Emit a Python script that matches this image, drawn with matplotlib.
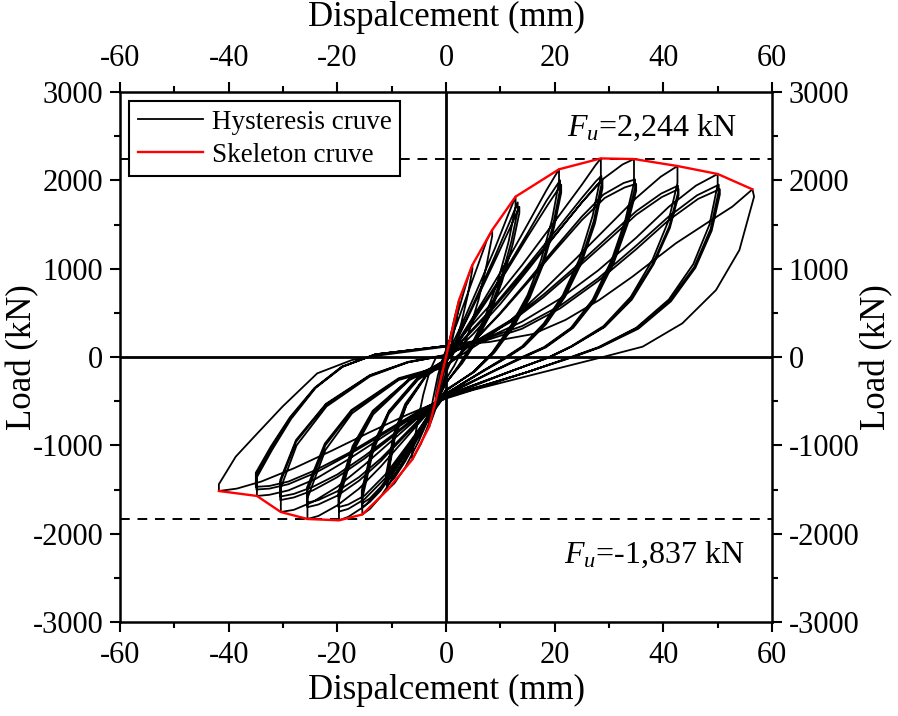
import matplotlib
matplotlib.use('Agg')
import matplotlib.pyplot as plt
from matplotlib.ticker import MultipleLocator

plt.rcParams['font.family'] = ['Liberation Serif', 'DejaVu Serif']
plt.rcParams['mathtext.fontset'] = 'custom'
plt.rcParams['mathtext.rm'] = 'Liberation Serif'
plt.rcParams['mathtext.it'] = 'Liberation Serif:italic'
plt.rcParams['axes.unicode_minus'] = False

# hysteresis cycles, (displacement mm, load kN)
c1 = [(0, 0), (0.8, 230), (1.6, 450), (2.4, 645), (2.4, 600), (1.8, 380), (1.0, 150), (0.5, 20), (0, -90),
      (-0.7, -250), (-1.4, -400), (-1.9, -490), (-1.9, -450), (-1.3, -260), (-0.6, -60), (0, 60)]
c2 = [(0, 60), (1.5, 350), (3.2, 720), (4.2, 930), (4.85, 1041), (4.85, 990), (4.0, 700), (2.8, 380), (1.6, 100),
      (0.8, -60), (0, -180), (-1.0, -390), (-2.1, -620), (-3.1, -790), (-3.1, -740), (-2.4, -480), (-1.5, -210),
      (-0.6, -20), (0, 80)]
c3 = [(0, 80), (2.0, 380), (4.0, 720), (6.0, 1060), (7.5, 1320), (8.5, 1438), (8.5, 1370), (7.5, 1050), (6.0, 650),
      (4.3, 300), (2.8, 60), (1.5, -100), (0, -250), (-1.5, -470), (-3.0, -730), (-4.6, -980), (-6.2, -1160),
      (-6.2, -1080), (-5.3, -760), (-4.2, -430), (-3.0, -160), (-1.8, 0), (0, 0)]
c4a = [(0, 0), (3, 380), (6, 800), (9, 1230), (11.5, 1620), (12.8, 1815), (12.8, 1700), (11.5, 1300), (9.5, 850),
       (7, 420), (4.5, 120), (2.5, -80), (0, -300), (-2.5, -600), (-5, -950), (-7.5, -1250), (-9.5, -1430),
       (-10.8, -1506), (-10.8, -1380), (-9.4, -910), (-7.3, -550), (-3.7, -220), (0, -60)]
c4b = [(0, -60), (3, 330), (6, 730), (9, 1140), (11.8, 1540), (13.2, 1750), (13.2, 1660), (12, 1300), (10, 860),
       (7.5, 440), (5, 140), (2.8, -70), (0, -290), (-2.5, -580), (-5, -900), (-7.5, -1180), (-9.5, -1370),
       (-10.8, -1450), (-10.8, -1340), (-9.4, -880), (-7.3, -540), (-3.7, -210), (0, -50)]
c4c = [(0, -50), (3, 320), (6, 700), (9, 1090), (12, 1490), (13.5, 1700), (13.5, 1630), (12.3, 1280), (10.3, 850),
       (7.8, 440), (5.2, 140), (3, -70), (0, -290), (-2.5, -570), (-5, -880), (-7.5, -1160), (-9.6, -1340),
       (-11, -1420), (-11, -1320), (-9.6, -870), (-7.5, -530), (-3.7, -210), (0, -40)]
c5a = [(0, -40), (3, 260), (7, 650), (11, 1060), (15, 1500), (18.5, 1890), (20.8, 2125), (20.8, 1980), (19.5, 1550),
       (17.5, 1100), (15, 700), (12, 360), (8.5, 50), (5, -170), (0, -380), (-3, -650), (-6, -980), (-9, -1300),
       (-12, -1580), (-14, -1720), (-15.4, -1783), (-15.4, -1600), (-13.4, -1060), (-10.5, -640), (-5.2, -260),
       (0, -40)]
c5b = [(0, -40), (3, 240), (7, 610), (11, 990), (15, 1400), (18.5, 1770), (21, 2000), (21, 1900), (19.7, 1490),
       (17.7, 1060), (15.2, 680), (12.2, 350), (8.7, 50), (5, -170), (0, -380), (-3, -640), (-6, -950), (-9, -1250),
       (-12, -1510), (-14, -1640), (-15.4, -1700), (-15.4, -1540), (-13.4, -1020), (-10.5, -620), (-5.2, -250),
       (0, -30)]
c5c = [(0, -30), (3, 230), (7, 590), (11, 960), (15, 1360), (18.7, 1720), (21.2, 1950), (21.2, 1860), (19.9, 1470),
       (17.9, 1050), (15.4, 670), (12.4, 340), (8.9, 50), (5.2, -170), (0, -370), (-3, -630), (-6, -930),
       (-9, -1220), (-12, -1470), (-14, -1600), (-15.5, -1660), (-15.5, -1510), (-13.5, -1000), (-10.5, -610),
       (-5.3, -240), (0, -20)]
c6a = [(0, -20), (2.4, 200), (8, 580), (14, 1040), (20.2, 1550), (25, 1950), (27.5, 2170), (28.5, 2248),
       (28.5, 2050), (27, 1600), (24.5, 1100), (21.5, 700), (18, 380), (14, 120), (11, 0), (7, -150), (3, -300),
       (0, -420), (-3, -680), (-7, -1050), (-11, -1420), (-15, -1690), (-18, -1810), (-19.7, -1849), (-19.7, -1620),
       (-17.1, -1070), (-13.4, -650), (-6.7, -260), (0, -60)]
c6b = [(0, -60), (2.4, 150), (8, 520), (14, 960), (20.2, 1430), (25, 1800), (27.6, 1990), (28.6, 2050),
       (28.6, 1950), (27.2, 1540), (24.7, 1070), (21.7, 690), (18.2, 380), (14.2, 120), (11.2, 0), (7, -150),
       (3, -300), (0, -420), (-3, -660), (-7, -1010), (-11, -1360), (-15, -1610), (-18, -1720), (-19.7, -1750),
       (-19.7, -1560), (-17.1, -1030), (-13.4, -620), (-6.7, -250), (0, -50)]
c6c = [(0, -50), (2.4, 140), (8, 500), (14, 930), (20.2, 1390), (25, 1750), (27.8, 1950), (28.8, 2000),
       (28.8, 1910), (27.4, 1510), (24.9, 1060), (21.9, 680), (18.4, 370), (14.4, 120), (11.4, 0), (7.2, -150),
       (3.1, -300), (0, -410), (-3, -650), (-7, -990), (-11, -1320), (-15, -1570), (-18, -1670), (-19.8, -1700),
       (-19.8, -1530), (-17.2, -1010), (-13.5, -610), (-6.7, -245), (0, -40)]
c7a = [(0, -40), (5, 260), (10, 600), (15, 980), (20, 1370), (25, 1750), (29, 2020), (32.5, 2180), (34.6, 2241),
       (34.6, 1970), (33, 1550), (30.5, 1100), (27, 650), (23, 330), (18, 110), (14, 0), (9, -150), (4, -310),
       (0, -430), (-4, -680), (-8, -960), (-12, -1240), (-16, -1490), (-20, -1680), (-23.5, -1800), (-25.5, -1834),
       (-25.5, -1600), (-22.2, -1053), (-17.3, -638), (-8.7, -260), (0, -113)]
c7b = [(0, -113), (5, 170), (10, 500), (15, 860), (20, 1230), (25, 1590), (29, 1840), (32.7, 1970), (34.8, 2010),
       (34.8, 1920), (33.2, 1520), (30.7, 1080), (27.2, 640), (23.2, 330), (18.2, 110), (14.2, 0), (9, -150),
       (4, -300), (0, -420), (-4, -660), (-8, -920), (-12, -1180), (-16, -1400), (-20, -1570), (-23.5, -1670),
       (-25.5, -1700), (-25.5, -1520), (-22.2, -1000), (-17.3, -610), (-8.7, -250), (0, -100)]
c7c = [(0, -100), (5, 170), (10, 490), (15, 840), (20, 1200), (25, 1550), (29.2, 1800), (32.9, 1920), (35, 1960),
       (35, 1880), (33.4, 1500), (30.9, 1070), (27.4, 640), (23.4, 330), (18.4, 110), (14.4, 0), (9.2, -150),
       (4.1, -300), (0, -415), (-4, -650), (-8, -900), (-12, -1150), (-16, -1360), (-20, -1520), (-23.5, -1620),
       (-25.6, -1650), (-25.6, -1480), (-22.3, -980), (-17.4, -600), (-8.7, -240), (0, -90)]
c8a = [(0, -90), (6, 150), (12, 420), (18, 760), (24, 1120), (30, 1490), (35, 1800), (39.5, 2040), (42.6, 2162),
       (42.6, 1970), (41, 1550), (38, 1100), (34, 680), (29, 350), (23, 120), (19, 0), (12, -160), (5, -330),
       (0, -450), (-5, -680), (-10, -950), (-15, -1220), (-20, -1470), (-24.5, -1640), (-28, -1730), (-30.4, -1755),
       (-30.4, -1480), (-27.5, -1000), (-22, -560), (-14, -220), (-7, -60), (0, 20)]
c8b = [(0, 20), (6, 200), (12, 420), (18, 710), (24, 1030), (30, 1370), (35, 1650), (39.6, 1850), (42.7, 1940),
       (42.7, 1860), (41.1, 1480), (38.1, 1060), (34.1, 660), (29.1, 340), (23.1, 120), (19.1, 0), (12, -160),
       (5, -320), (0, -440), (-5, -660), (-10, -910), (-15, -1150), (-20, -1360), (-24.5, -1510), (-28, -1590),
       (-30.5, -1620), (-30.5, -1420), (-27.6, -960), (-22.1, -540), (-14, -210), (-7, -60), (0, 20)]
c8c = [(0, 20), (6, 190), (12, 400), (18, 680), (24, 1000), (30, 1330), (35, 1610), (39.7, 1810), (42.8, 1900),
       (42.8, 1830), (41.2, 1460), (38.2, 1050), (34.2, 650), (29.2, 340), (23.2, 120), (19.2, 0), (12, -160),
       (5, -320), (0, -435), (-5, -650), (-10, -890), (-15, -1120), (-20, -1330), (-24.5, -1470), (-28, -1550),
       (-30.5, -1580), (-30.5, -1390), (-27.6, -940), (-22.1, -530), (-14, -205), (-7, -55), (0, 25)]
c9a = [(0, 25), (7, 200), (14, 400), (21, 660), (28, 980), (35, 1350), (41, 1700), (46, 1940), (50, 2072),
       (50, 1950), (48.5, 1500), (45.5, 1050), (41, 650), (35, 330), (28, 110), (23, 0), (15, -170), (7, -330),
       (0, -460), (-6, -680), (-12, -920), (-18, -1160), (-24, -1380), (-29, -1510), (-32.5, -1560), (-34.8, -1573),
       (-34.8, -1360), (-32, -1050), (-28.5, -700), (-24, -350), (-19, -110), (-13, 30), (0, 125)]
c9b = [(0, 125), (7, 200), (14, 350), (21, 580), (28, 890), (35, 1260), (41, 1590), (46.2, 1830), (50.2, 1950),
       (50.2, 1880), (48.7, 1450), (45.7, 1020), (41.2, 640), (35.2, 330), (28.2, 110), (23.2, 0), (15, -170),
       (7, -320), (0, -450), (-6, -660), (-12, -890), (-18, -1110), (-24, -1310), (-29, -1440), (-32.5, -1490),
       (-34.9, -1500), (-34.9, -1330), (-32.1, -1020), (-28.6, -690), (-24.1, -350), (-19.1, -110), (-13, 30),
       (0, 125)]
c9c = [(0, 125), (7, 180), (14, 320), (21, 550), (28, 860), (35, 1220), (41, 1550), (46.4, 1790), (50.4, 1900),
       (50.4, 1840), (48.9, 1430), (45.9, 1010), (41.4, 630), (35.4, 320), (28.4, 110), (23.4, 0), (15, -170),
       (7, -320), (0, -445), (-6, -650), (-12, -870), (-18, -1090), (-24, -1280), (-29, -1410), (-32.5, -1460),
       (-35, -1470), (-35, -1310), (-32.2, -1010), (-28.7, -680), (-24.2, -350), (-19.2, -110), (-13, 30), (0, 125)]
c10 = [(0, 125), (8, 170), (16, 260), (22, 420), (28.2, 645), (34.3, 909), (42.3, 1287), (48.4, 1532), (52.7, 1702),
       (55.5, 1850), (56.4, 1898), (56.7, 1815), (54, 1211), (49.7, 758), (43.5, 381), (36.2, 117), (28.2, -11),
       (17, -185), (5, -373), (0, -470), (-7, -650), (-14, -850), (-21, -1060), (-28, -1260), (-34, -1410),
       (-38.5, -1490), (-41.8, -1517), (-41.8, -1440), (-38.7, -1128), (-35, -883), (-30.1, -562), (-23.7, -185),
       (-17.3, -34), (-11.7, 23), (0, 117)]

cycles = [c1, c2, c3, c4a, c4b, c4c, c5a, c5b, c5c, c6a, c6b, c6c, c7a, c7b, c7c, c8a, c8b, c8c, c9a, c9b, c9c, c10]

# skeleton curve
skel_disp = [-41.8, -34.8, -30.4, -25.5, -19.7, -15.4, -10.8, -6.2, -3.1, -1.9, 0,
             2.4, 4.85, 8.5, 12.8, 20.8, 28.5, 34.6, 42.6, 50, 56.4]
skel_load = [-1517, -1573, -1755, -1834, -1849, -1783, -1506, -1160, -790, -490, 0,
             645, 1041, 1438, 1815, 2125, 2248, 2241, 2162, 2072, 1898]

fu_pos = 2244
fu_neg = -1837

hyst = [p for c in cycles for p in c]
hyst_disp = [p[0] for p in hyst]
hyst_load = [p[1] for p in hyst]

fig = plt.figure(figsize=(8.98, 7.16), dpi=100)
ax = fig.add_axes([120 / 898, 1 - 622 / 716, 652 / 898, 530 / 716])

ax.axhline(0, color='black', lw=2, zorder=1)
ax.axvline(0, color='black', lw=2, zorder=1)
ax.axhline(fu_pos, color='black', lw=1.4, ls=(0, (5, 4)), zorder=1)
ax.axhline(fu_neg, color='black', lw=1.4, ls=(0, (5, 4)), zorder=1)

ax.plot(hyst_disp, hyst_load, color='black', lw=1.3, label='Hysteresis cruve', zorder=2)
ax.plot(skel_disp, skel_load, color='red', lw=1.7, label='Skeleton cruve', zorder=3)

ax.text(22.3, 2593, '$F_u$=2,244 kN', fontsize=23, va='center', ha='left')
ax.text(21.7, -2242, '$F_u$=-1,837 kN', fontsize=23, va='center', ha='left')

ax.set_xlim(-60, 60)
ax.set_ylim(-3000, 3000)
ax.xaxis.set_major_locator(MultipleLocator(20))
ax.xaxis.set_minor_locator(MultipleLocator(10))
ax.yaxis.set_major_locator(MultipleLocator(1000))
ax.yaxis.set_minor_locator(MultipleLocator(500))
ax.tick_params(which='both', direction='out', top=True, right=True, labeltop=True, labelright=True,
               labelsize=22, width=1.5)
ax.tick_params(which='major', length=7)
ax.tick_params(which='minor', length=4)
ax.tick_params(axis='x', pad=7)
ax.tick_params(axis='y', pad=5)
for s in ax.spines.values():
    s.set_linewidth(1.8)

# axis titles on all four sides
fig.text(446 / 898, 1 - 690 / 716, 'Dispalcement (mm)', fontsize=25, ha='center', va='center')
fig.text(446 / 898, 1 - 17 / 716, 'Dispalcement (mm)', fontsize=25, ha='center', va='center')
fig.text(23 / 898, 1 - 357 / 716, 'Load (kN)', fontsize=25, ha='center', va='center', rotation=90)
fig.text(877 / 898, 1 - 357 / 716, 'Load (kN)', fontsize=25, ha='center', va='center', rotation=90)

leg = ax.legend(loc='upper left', fontsize=19.5, frameon=True, fancybox=False, edgecolor='black', framealpha=1,
                handlelength=2.4, borderpad=0.3, labelspacing=0.3, handletextpad=0.35, borderaxespad=0.35)
leg.get_frame().set_linewidth(1.5)

fig.savefig('out.png', dpi=100)
